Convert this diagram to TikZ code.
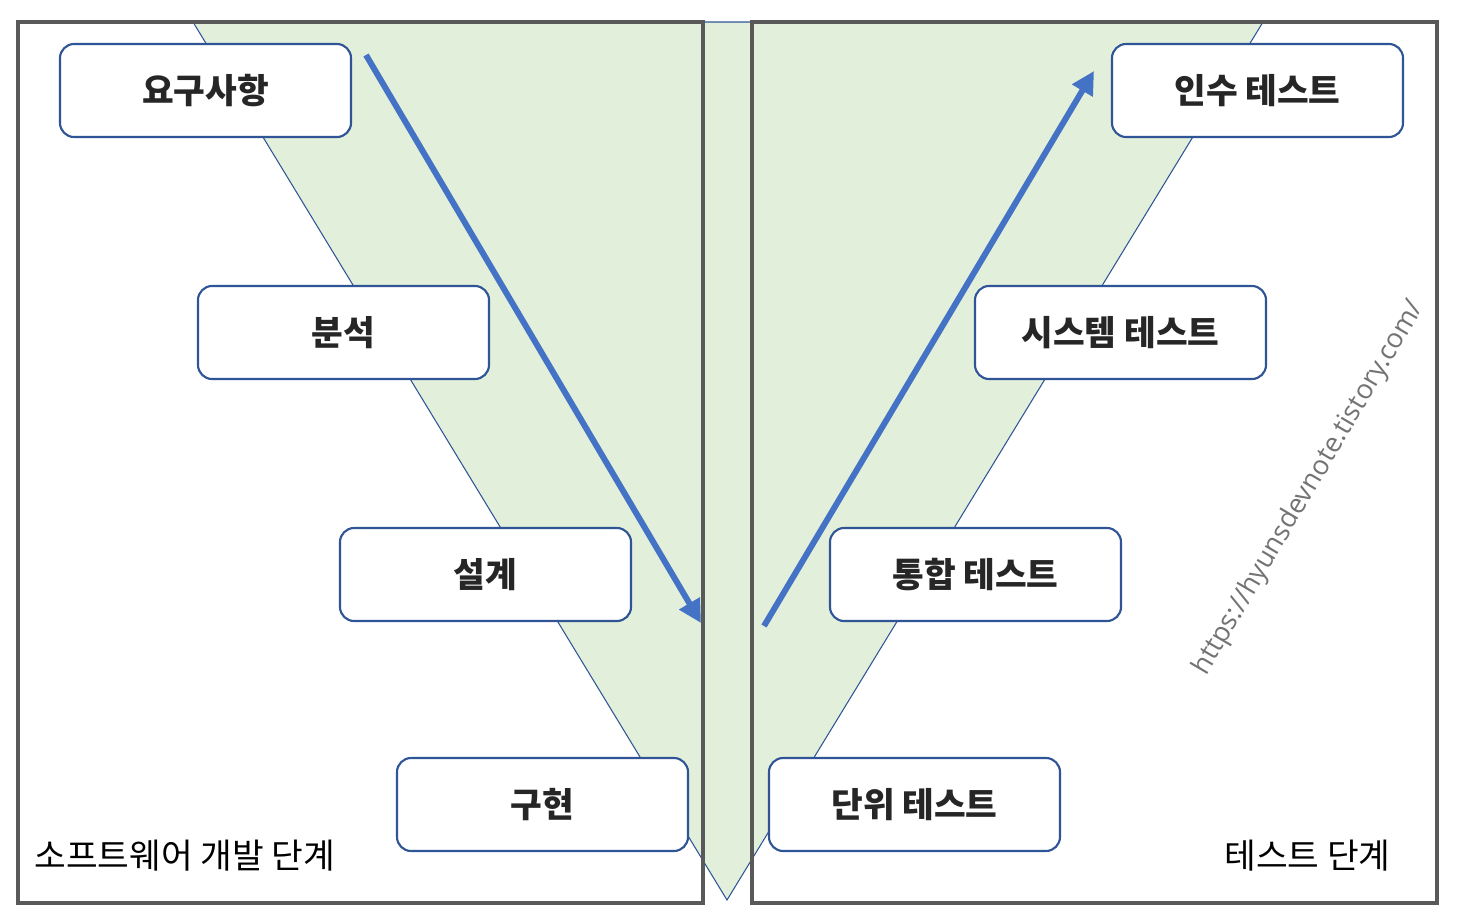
\documentclass[tikz,border=0pt]{standalone}
\usepackage{fontspec}
\setmainfont{Noto Sans CJK KR}
\newfontfamily\wmfont{Open Sans}
\usetikzlibrary{arrows.meta}
\definecolor{vgreen}{HTML}{E2EFDA}
\definecolor{vblue}{HTML}{2F5597}
\definecolor{arrblue}{HTML}{4472C4}
\definecolor{framegray}{HTML}{595959}
\tikzset{
  stagebox/.style={draw=vblue, line width=1.2pt, fill=white, rounded corners=8pt,
    minimum width=291*0.02cm, minimum height=93*0.02cm, inner sep=0pt,
    font=\fontsize{19.6}{22}\selectfont\bfseries, text=black!85},
  frame/.style={draw=framegray, line width=1.8pt},
  flow/.style={draw=arrblue, line width=3.4pt, -{Triangle[length=13pt,width=13pt]}},
  phase/.style={font=\fontsize{19.6}{22}\selectfont, text=black, inner sep=0pt},
}
\begin{document}
\begin{tikzpicture}[x=0.02cm,y=-0.02cm]
\useasboundingbox (0,0) rectangle (1457,920);
% V triangle
\draw[vblue, line width=0.6pt, fill=vgreen] (193,22) -- (1263,22) -- (727,900) -- cycle;
% frames
\draw[frame] (18,22) rectangle (703,903);
\draw[frame] (752,22) rectangle (1437,903);
% boxes
\node[stagebox] (req) at (205.5,90.5) {요구사항};
\node[stagebox] (ana) at (343.5,332.5) {분석};
\node[stagebox] (des) at (485.5,574.5) {설계};
\node[stagebox] (imp) at (542.5,804.5) {구현};
\node[stagebox] (acc) at (1257.5,90.5) {인수 테스트};
\node[stagebox] (sys) at (1120.5,332.5) {시스템 테스트};
\node[stagebox] (int) at (975.5,574.5) {통합 테스트};
\node[stagebox] (unit) at (914.5,804.5) {단위 테스트};
% arrows
\coordinate (a1) at (366,55);
\coordinate (a2) at (701,623);
\coordinate (b1) at (764,626);
\coordinate (b2) at (1094,71);
\draw[flow] (a1) -- (a2);
\draw[flow] (b1) -- (b2);
% labels
\node[phase, anchor=west] (devlbl) at (34,856) {소프트웨어 개발 단계};
\node[phase, anchor=east] (testlbl) at (1391,856) {테스트 단계};
% watermark
\node[font=\wmfont\fontsize{15.4}{17}\selectfont, text=black!55, rotate=59.5, inner sep=0pt] (wm) at (1309,488) {https://hyunsdevnote.tistory.com/};
\end{tikzpicture}
\end{document}
